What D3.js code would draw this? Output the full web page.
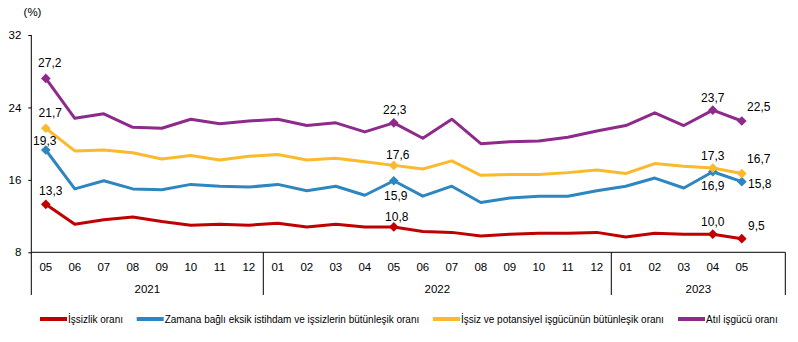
<!DOCTYPE html>
<html>
<head>
<meta charset="utf-8">
<script src="https://cdn.jsdelivr.net/npm/d3@7"></script>
<style>
  body { margin: 0; background: #fff; }
  svg { display: block; font-family: "Liberation Sans", Arial, sans-serif; }
</style>
</head>
<body>
<script>
// Periods: 2021-05 .. 2023-05
var months = ["05","06","07","08","09","10","11","12",
              "01","02","03","04","05","06","07","08","09","10","11","12",
              "01","02","03","04","05"];
var years = ["2021", "2022", "2023"];
var yearCounts = [8, 12, 5];

var yTicks = [8, 16, 24, 32];

var seriesNames = [
  "İşsizlik oranı",
  "Zamana bağlı eksik istihdam ve işsizlerin bütünleşik oranı",
  "İşsiz ve potansiyel işgücünün bütünleşik oranı",
  "Atıl işgücü oranı"
];

var unemployment = [13.3, 11.1, 11.6, 11.9, 11.4, 11.0, 11.1, 11.0, 11.2, 10.8, 11.1, 10.8, 10.8,
                    10.3, 10.2, 9.8, 10.0, 10.1, 10.1, 10.2, 9.7, 10.1, 10.0, 10.0, 9.5];
var timeRelated = [19.3, 15.0, 15.9, 15.0, 14.9, 15.5, 15.3, 15.2, 15.5, 14.8, 15.3, 14.3, 15.9,
                   14.2, 15.3, 13.5, 14.0, 14.2, 14.2, 14.8, 15.3, 16.2, 15.1, 16.9, 15.8];
var potential = [21.7, 19.2, 19.3, 19.0, 18.3, 18.7, 18.2, 18.6, 18.8, 18.2, 18.4, 18.0, 17.6,
                 17.2, 18.1, 16.5, 16.6, 16.6, 16.8, 17.1, 16.7, 17.8, 17.5, 17.3, 16.7];
var slack = [27.2, 22.8, 23.3, 21.8, 21.7, 22.7, 22.2, 22.5, 22.7, 22.0, 22.3, 21.3, 22.3,
             20.6, 22.7, 20.0, 20.2, 20.3, 20.7, 21.4, 22.0, 23.4, 22.0, 23.7, 22.5];

// indices of the points that get a marker and a value label
var labelled = [0, 12, 23, 24];

var colors = ["#C00000", "#2E86C1", "#FBB92D", "#8E2A8B"];
var allSeries = [unemployment, timeRelated, potential, slack];

// label offsets from each marked point, per series (red, blue, yellow, purple)
var labelOffsets = [
  [[5, -13], [3, -10], [0, -12.5], [14.5, -13]],
  [[-1, -8.5], [2, 15], [0, 14], [18, 2]],
  [[4.5, -15], [4, -10], [0, -12], [17, -14.6]],
  [[4, -15], [1, -13], [0, -12.5], [17, -14.5]]
];

var svgWidth = 798;
var svgHeight = 342;

var svg = d3.select("body")
  .append("svg")
  .attr("width", svgWidth)
  .attr("height", svgHeight);

// one spare slot at the end of the category axis
var xBandScale = d3.scaleBand()
  .domain(d3.range(months.length + 1))
  .range([31.3, 785.3])
  .padding(0);

var yLinearScale = d3.scaleLinear()
  .domain([8, 32])
  .range([252.3, 35]);

var cx = i => xBandScale(i) + xBandScale.bandwidth() / 2;

// y axis
var leftAxis = d3.axisLeft(yLinearScale)
  .tickValues(yTicks)
  .tickSize(3)
  .tickPadding(7);

var yAxisG = svg.append("g")
  .attr("transform", "translate(31.3,0)")
  .call(leftAxis);
yAxisG.select(".domain").remove();
yAxisG.selectAll("line").attr("stroke", "#000");
yAxisG.selectAll("text")
  .attr("fill", "#000")
  .style("font-size", "11.5px")
  .style("font-family", "'Liberation Sans', Arial, sans-serif");

svg.append("text")
  .attr("x", 32.5)
  .attr("y", 12)
  .attr("text-anchor", "middle")
  .attr("dominant-baseline", "central")
  .style("font-size", "11.5px")
  .text("(%)");

// axis frame: vertical axis line, baseline and year dividers
var axisBottom = yLinearScale(8);
var frameBottom = 295;

svg.append("line")
  .attr("x1", 31.3).attr("x2", 31.3)
  .attr("y1", yLinearScale(32)).attr("y2", frameBottom)
  .attr("stroke", "#000");

svg.append("line")
  .attr("x1", 31.3).attr("x2", xBandScale.range()[1])
  .attr("y1", axisBottom).attr("y2", axisBottom)
  .attr("stroke", "#000");

var yearEdges = [];
var start = 0;
yearCounts.forEach(function(n, k) {
  var x0 = xBandScale(start);
  var x1 = k === yearCounts.length - 1 ? xBandScale.range()[1] : xBandScale(start + n);
  yearEdges.push({ year: years[k], x0: x0, x1: x1 });
  start += n;
});

svg.selectAll(".year-divider")
  .data(yearEdges)
  .enter()
  .append("line")
  .attr("class", "year-divider")
  .attr("x1", d => d.x1).attr("x2", d => d.x1)
  .attr("y1", axisBottom).attr("y2", frameBottom)
  .attr("stroke", "#000");

svg.selectAll(".year-label")
  .data(yearEdges)
  .enter()
  .append("text")
  .attr("class", "year-label")
  .attr("x", d => (d.x0 + d.x1) / 2)
  .attr("y", 289)
  .attr("text-anchor", "middle")
  .attr("dominant-baseline", "central")
  .style("font-size", "11.5px")
  .text(d => d.year);

svg.selectAll(".month-label")
  .data(months)
  .enter()
  .append("text")
  .attr("class", "month-label")
  .attr("x", (d, i) => cx(i))
  .attr("y", 266.5)
  .attr("text-anchor", "middle")
  .attr("dominant-baseline", "central")
  .style("font-size", "11.5px")
  .text(d => d);

// lines
var line = d3.line()
  .x((d, i) => cx(i))
  .y(d => yLinearScale(d));

allSeries.forEach(function(values, s) {
  svg.append("path")
    .datum(values)
    .attr("fill", "none")
    .attr("stroke", colors[s])
    .attr("stroke-width", 3)
    .attr("stroke-linejoin", "round")
    .attr("d", line);
});

// diamond markers and value labels
var diamond = d3.symbol().type(d3.symbolDiamond2).size(60);

allSeries.forEach(function(values, s) {
  svg.selectAll(".marker-" + s)
    .data(labelled)
    .enter()
    .append("path")
    .attr("class", "marker-" + s)
    .attr("d", diamond)
    .attr("fill", colors[s])
    .attr("transform", i => `translate(${cx(i)},${yLinearScale(values[i])})`);

  svg.selectAll(".value-" + s)
    .data(labelled)
    .enter()
    .append("text")
    .attr("class", "value-" + s)
    .attr("x", (i, k) => cx(i) + labelOffsets[s][k][0])
    .attr("y", (i, k) => yLinearScale(values[i]) + labelOffsets[s][k][1])
    .attr("text-anchor", "middle")
    .attr("dominant-baseline", "central")
    .style("font-size", "12px")
    .text(i => values[i].toFixed(1).replace(".", ","));
});

// legend
var legendX = [40, 136.7, 433, 678];

var legend = svg.selectAll(".legend")
  .data(seriesNames)
  .enter()
  .append("g")
  .attr("class", "legend")
  .attr("transform", (d, i) => `translate(${legendX[i]},319)`);

legend.append("line")
  .attr("x1", 0).attr("x2", 27)
  .attr("y1", 0).attr("y2", 0)
  .attr("stroke", (d, i) => colors[i])
  .attr("stroke-width", 4);

legend.append("text")
  .attr("x", 28)
  .attr("y", 0)
  .attr("dominant-baseline", "central")
  .style("font-size", "10px")
  .text(d => d);
</script>
</body>
</html>
